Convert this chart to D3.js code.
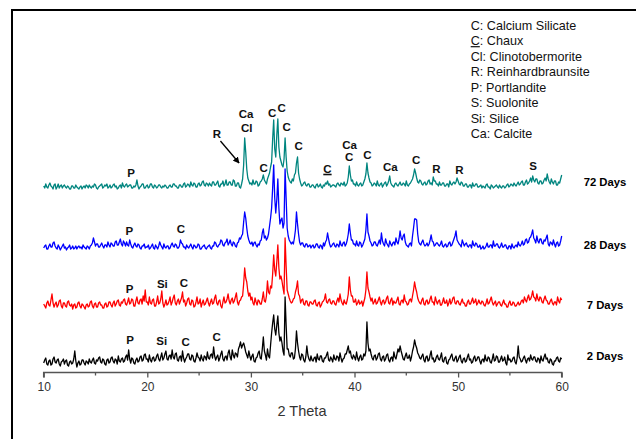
<!DOCTYPE html>
<html>
<head>
<meta charset="utf-8">
<script src="https://cdn.jsdelivr.net/npm/d3@7"></script>
<style>
  body { margin: 0; background: #fff; }
  svg { display: block; font-family: "Liberation Sans", Arial, sans-serif; }
</style>
</head>
<body>
<svg width="638" height="439"></svg>
<script>
// XRD patterns, intensity every 0.1 deg from 10 to 60 (2 theta)
const START = 10;
const STEP = 0.1;

const days72 = [
  1,-1, 3,0, -1,2, 4,1, 0,-2, 2,3, -2,0, 3,-1, 1,2, -1,1,
  2,0, -1,1, 0,-2, -2,1, 1,-1, -1,2, 0,-1, -2,0, 1,-2, 0,1,
  -1,2, 1,-1, 2,0, -1,1, 0,3, 2,-1, -2,0, 1,2, 3,-1, 0,2,
  1,3, -1,0, 2,-1, 0,2, 3,0, 1,-2, -1,1, 2,-1, 4,1, 0,2,
  3,0, 1,2, 2,-1, -1,1, 0,2, 7,1, -2,0, 1,3, 3,-1, -1,1,
  2,-1, 0,3, 3,0, -1,2, 1,-1, 0,2, 2,0, -1,1, 0,2, 1,-1,
  -1,1, 2,0, 0,3, 3,1, 1,-1, -1,2, 2,0, 0,3, 4,0, 1,3,
  2,0, 5,2, 1,4, 3,0, 0,3, 4,1, 2,5, 6,2, 1,4, 3,1,
  4,2, 1,5, 5,2, 2,4, 6,1, 0,3, 3,6, 1,3, 7,2, 2,5,
  5,2, 2,7, 6,1, 1,4, 4,0, -1,3, 8,22, 49,35, 18,9, 6,3,
  4,2, 7,3, 3,6, 5,1, 2,5, 6,8, 12,7, 5,3, 8,11, 14,20,
  25,48, 67,38, 30,52, 68,40, 30,26, 22,20, 28,49, 30,16, 10,7, 5,4,
  8,6, 12,14, 24,30, 14,8, 4,1, 2,4, 5,2, 1,3, 3,0, 0,2,
  2,0, -1,2, 3,0, 1,3, 0,-1, 2,1, 4,3, 6,2, 3,0, 1,2,
  2,1, 0,3, 4,2, 1,4, 3,2, 5,1, 2,4, 10,21, 12,6, 7,3,
  3,1, 5,2, 1,3, 4,1, 2,5, 8,13, 24,14, 9,5, 4,1, 2,4,
  3,1, 6,2, 1,3, 4,0, 2,4, 5,1, 3,6, 11,4, 2,1, 0,3,
  4,2, 1,3, 5,2, 2,4, 3,1, 6,2, 1,3, 4,6, 8,12, 18,14,
  9,5, 4,7, 6,3, 2,4, 5,2, 3,6, 7,3, 4,2, 10,6, 6,3,
  3,1, 5,2, 2,4, 4,1, 1,3, 3,0, 6,3, 2,4, 5,3, 5,9,
  6,3, 2,5, 4,1, 1,3, 3,0, 0,2, 2,-1, 4,1, 1,3, 3,0,
  0,1, 2,-1, 1,0, -1,2, 3,0, 0,-2, 2,1, -1,0, 1,2, 0,-1,
  2,0, -1,1, 1,-1, 0,2, 3,0, 1,3, 2,1, 4,2, 1,3, 5,2,
  3,5, 6,2, 2,5, 7,3, 4,6, 9,5, 11,7, 5,8, 8,4, 3,6,
  6,3, 4,7, 9,6, 13,8, 5,3, 8,5, 3,6, 6,2, 2,5, 4,8,
  12
];

const days28 = [
  0,2, 3,-1, -1,2, 4,1, 1,5, 6,2, 0,-1, 3,1, -2,0, 2,4,
  0,1, -2,0, 1,3, -1,0, 2,-1, 0,2, -1,1, 2,0, 1,-1, 3,1,
  0,-1, 2,1, -1,2, 3,5, 10,6, 2,4, 4,1, 1,3, 5,2, 0,3,
  3,1, 6,3, 1,5, 4,2, 2,6, 7,3, 3,6, 9,4, 2,7, 5,2,
  6,3, 2,8, 4,1, 0,3, 5,2, 1,4, 3,0, -1,2, 2,4, 0,1,
  1,3, -1,0, 2,4, 0,-1, 3,1, -1,2, 6,3, 1,-1, 4,1, 0,2,
  2,-1, 0,3, 5,2, 1,4, 3,0, 0,2, 8,5, 4,1, 1,-1, 3,1,
  0,2, 4,1, -1,3, 2,0, 1,4, 3,-1, -1,1, 2,3, 0,-1, 1,2,
  3,0, -1,2, 2,6, 5,2, 1,3, 4,8, 7,3, 2,5, 6,9, 3,5,
  8,4, 2,6, 5,2, 1,5, 6,10, 9,12, 14,26, 36,30, 20,12, 8,5,
  4,6, 2,5, 6,3, 1,4, 3,7, 8,15, 19,10, 12,8, 10,14, 22,30,
  40,60, 83,50, 35,48, 69,40, 24,28, 30,20, 25,79, 50,20, 12,8, 6,4,
  6,4, 10,18, 36,24, 14,6, 3,5, 5,2, 1,4, 4,1, 2,3, 0,2,
  3,0, 1,4, 4,1, 0,3, 2,-1, 5,2, 6,8, 15,9, 4,1, 2,4,
  5,2, 1,4, 3,1, 7,3, 2,5, 6,2, 4,8, 14,24, 15,8, 8,4,
  4,2, 7,3, 2,6, 5,1, 3,6, 9,18, 34,16, 12,7, 5,2, 3,6,
  6,3, 2,5, 8,4, 15,7, 4,2, 9,5, 3,1, 7,4, 2,5, 6,3,
  10,6, 4,9, 17,10, 8,12, 14,6, 3,2, 1,4, 5,2, 12,20, 29,29,
  28,14, 6,4, 3,6, 8,4, 2,3, 5,2, 4,8, 13,7, 6,2, 3,5,
  5,3, 2,4, 7,2, 1,3, 4,1, 2,5, 6,2, 3,6, 9,12, 17,8,
  6,4, 3,1, 8,5, 2,4, 5,2, 1,3, 3,0, 7,3, 2,5, 4,1,
  1,3, -1,0, 2,-1, 0,2, 5,1, 1,3, 3,0, 7,2, 2,4, 4,1,
  0,2, 5,1, 1,3, 3,0, -1,2, 2,-1, 4,1, 0,2, 3,1, 6,3,
  2,4, 7,3, 4,8, 9,5, 6,10, 11,14, 18,10, 8,5, 12,7, 5,9,
  9,5, 4,8, 7,10, 13,4, 2,6, 5,3, 8,4, 1,5, 6,2, 3,7,
  12
];

const days7 = [
  2,0, -2,3, 5,1, 0,6, 12,3, -1,2, 4,-1, 1,5, 6,0, -2,3,
  3,0, -1,4, 5,1, 0,2, -3,1, 2,-2, -1,3, 4,0, -2,2, 1,-1,
  -3,1, 2,-1, 0,4, 5,0, -2,2, 3,-1, -1,3, 4,1, 1,-2, -2,2,
  3,-1, 0,4, 4,1, -1,3, 5,0, 2,5, 6,1, 0,4, 3,6, 7,2,
  1,4, 8,2, 3,7, 6,0, 0,5, 9,3, 2,6, 7,2, 10,5, 16,4,
  4,1, 9,3, 2,6, 7,0, 0,4, 10,2, 3,7, 15,3, -1,2, 6,1,
  2,5, 9,1, 4,8, 11,3, 1,5, 7,2, 5,8, 14,4, 6,0, 3,7,
  8,2, 1,6, 5,-1, 0,4, 9,2, 3,7, -1,3, 6,1, 2,5, 8,3,
  0,4, 7,2, 3,8, 11,3, 1,5, 6,0, -2,4, 9,3, 4,7, 12,5,
  2,6, 8,3, 5,9, 13,4, 1,5, 6,9, 10,22, 38,28, 24,15, 10,13,
  6,9, 3,1, 8,4, 1,6, 5,2, 2,7, 14,5, 4,10, 25,14, 12,20,
  18,32, 51,36, 30,44, 61,38, 27,30, 25,18, 12,68, 40,16, 12,8, 5,3,
  4,7, 8,14, 18,25, 12,10, 3,6, 7,2, 1,5, 5,1, 0,4, 4,2,
  2,5, 6,1, 0,3, 4,-1, 1,4, 5,7, 12,4, 3,6, 7,3, 2,5,
  5,2, 1,5, 8,4, 12,6, 3,1, 6,3, 2,6, 12,29, 16,10, 10,4,
  4,7, 1,3, 6,2, 3,5, 0,4, 8,16, 34,18, 14,9, 5,8, 2,4,
  7,2, 3,6, 9,4, 1,5, 6,2, 4,8, 10,3, 2,6, 8,1, 5,3,
  3,6, 9,2, 1,5, 6,3, 11,5, 4,1, 2,6, 7,4, 10,16, 24,18,
  14,8, 5,3, 2,6, 8,2, 1,5, 6,2, 3,7, 10,4, 4,1, 9,5,
  2,5, 6,1, 1,4, 8,3, 3,6, 0,3, 7,2, 4,8, 9,3, 2,5,
  5,2, 1,4, 7,3, 3,0, 0,4, 6,2, 2,5, 8,3, 4,7, 1,3,
  6,3, 2,5, 4,1, 0,3, 7,2, 3,6, 9,4, 1,3, 5,0, 2,4,
  4,1, 0,3, 6,2, 2,-1, -1,3, 5,1, 1,4, 3,0, 0,2, 4,1,
  2,5, 6,3, 9,6, 4,8, 11,6, 7,10, 15,9, 8,5, 12,7, 5,9,
  8,4, 3,7, 10,6, 5,2, 2,5, 7,3, 1,4, 4,1, 9,5, 3,8,
  6
];

const days2 = [
  0,3, 5,-1, -2,2, 3,-2, -1,4, 6,1, 0,3, 4,-1, -3,1, 2,4,
  -1,2, 3,-2, -3,1, 2,-1, 0,4, 12,2, -4,0, 2,-2, -1,3, 3,0,
  -2,2, 1,-1, 4,1, 0,3, 5,0, -1,3, 2,5, 6,1, 0,4, 3,-1,
  -2,3, 4,0, 1,5, 6,2, 0,4, 3,-1, 7,2, 1,4, 5,1, 2,6,
  8,3, 13,4, 0,5, 4,0, -1,3, 5,1, 2,6, 7,2, 3,8, 9,4,
  4,1, 8,3, 1,5, 6,2, 3,7, 9,4, 2,6, 10,3, 5,9, 12,4,
  3,7, 8,4, 13,6, 4,9, 10,3, 2,6, 7,2, 12,5, 1,4, 6,9,
  9,4, 3,8, 7,2, 1,5, 10,6, 5,2, 8,4, 2,7, 6,3, 11,5,
  4,8, 9,5, 16,7, 3,6, 8,2, 5,9, 12,4, 2,6, 7,3, 10,13,
  6,3, 13,8, 5,10, 9,6, 14,17, 21,15, 18,20, 16,11, 8,5, 12,7,
  3,7, 9,2, 1,5, 6,10, 12,5, 4,14, 26,12, 8,3, 14,7, 5,18,
  30,40, 48,34, 28,38, 47,30, 22,26, 20,12, 8,66, 38,14, 14,8, 6,10,
  10,4, 5,14, 32,20, 12,6, 3,9, 8,3, 1,6, 17,8, 4,2, 7,3,
  2,5, 6,1, 9,4, 3,7, 7,2, 1,5, 5,8, 11,3, 2,6, 4,1,
  8,4, 3,7, 6,2, 10,5, 1,4, 5,9, 9,13, 17,10, 12,6, 4,8,
  6,3, 11,5, 2,6, 8,3, 4,9, 7,12, 41,20, 12,14, 9,5, 3,7,
  8,3, 5,9, 10,4, 2,6, 7,2, 4,8, 9,3, 1,5, 6,2, 11,6,
  4,9, 14,11, 17,12, 8,4, 3,7, 10,5, 5,8, 2,6, 12,16, 23,18,
  15,10, 8,5, 4,7, 9,3, 1,6, 7,2, 3,8, 12,4, 5,1, 2,6,
  8,4, 3,6, 10,2, 1,5, 6,0, -1,3, 4,7, 9,3, 2,5, 7,1,
  3,6, 8,2, 0,4, 5,1, 2,6, 9,3, 4,0, 1,5, 7,2, 3,6,
  6,2, -1,3, 4,1, 8,3, 2,6, 5,1, 0,4, 9,2, 3,7, 6,1,
  1,4, 7,2, 3,6, 0,-2, 8,3, 4,1, 2,5, 6,1, -1,5, 17,6,
  4,1, 2,5, 7,3, 0,4, 5,2, 8,4, 3,6, 6,2, 1,5, 4,0,
  7,3, 2,6, 9,4, 5,1, 0,4, 3,-1, -2,2, 2,5, 6,2, 1,5,
  4
];

const seriesNames = ["72 Days", "28 Days", "7 Days", "2 Days"];
const seriesValues = [days72, days28, days7, days2];
const seriesOffsets = [185, 124, 66, 9];
const nameLevels = [190, 127, 67, 16];
const seriesColors = ["#00857f", "#0000ff", "#ff0000", "#000000"];

const xTicks = [10, 20, 30, 40, 50, 60];
const xMinorTicks = [15, 25, 35, 45, 55];

// phase labels: [2 theta, level, text, underlined]
const peakLabels = [
  [18.43, 199, "P"], [26.73, 238, "R"], [29.53, 258, "Ca"], [29.59, 244, "Cl"],
  [31.24, 204, "C"], [32.04, 259, "C"], [32.97, 264, "C"], [33.46, 245, "C"],
  [34.61, 226, "C"], [37.39, 203, "C", true], [39.52, 227, "Ca"], [39.49, 215, "C"],
  [41.25, 217, "C"], [43.46, 205, "Ca"], [45.94, 212, "C"], [47.9, 203, "R"],
  [50.12, 202, "R"], [57.23, 206, "S"],
  [18.26, 141, "P"], [23.25, 143, "C"],
  [18.3, 83, "P"], [21.45, 88, "Si"], [23.54, 89, "C"],
  [18.33, 32, "P"], [21.39, 31, "Si"], [23.71, 30, "C"], [26.7, 35, "C"]
];
const arrowFrom = [27.06, 231];
const arrowTo = [28.86, 209];

const legendItems = [
  ["C", ": Calcium Silicate", false],
  ["C", ": Chaux", true],
  ["Cl", ": Clinotobermorite", false],
  ["R", ": Reinhardbraunsite", false],
  ["P", ": Portlandite", false],
  ["S", ": Suolonite", false],
  ["Si", ": Silice", false],
  ["Ca", ": Calcite", false]
];

const main = function() {
  const svg = d3.select("svg");
  const x = d3.scaleLinear().domain([10, 60]).range([43.7, 561.7]);
  const y = d3.scaleLinear().domain([0, 360]).range([372, 12]);

  // frame
  svg.append("path")
    .attr("d", "M12,439V10H636")
    .attr("fill", "none")
    .attr("stroke", "#000")
    .attr("stroke-width", 2);

  // patterns
  const line = d3.line()
    .x((d, i) => x(START + i * STEP))
    .y(d => y(d));

  seriesValues.forEach((vals, k) => {
    svg.append("path")
      .datum(vals.map(v => v + seriesOffsets[k]))
      .attr("d", line)
      .attr("fill", "none")
      .attr("stroke", seriesColors[k])
      .attr("stroke-width", 1.3)
      .attr("stroke-linejoin", "round");
  });

  // x axis
  const axis = svg.append("g")
    .attr("transform", `translate(0, ${y(0) + 0.5})`)
    .call(d3.axisBottom(x).tickValues(xTicks).tickSize(5).tickPadding(5));
  axis.select(".domain").attr("stroke", "#555").attr("stroke-width", 1.5)
    .attr("d", `M${x(10)},5V0H${x(60)}V5`);
  axis.selectAll(".tick line").attr("stroke", "#555").attr("stroke-width", 1.3);
  axis.selectAll(".tick text")
    .attr("fill", "#333")
    .style("font-size", "12px")
    .style("font-family", "'Liberation Sans', Arial, sans-serif");
  axis.selectAll(".minor")
    .data(xMinorTicks)
    .enter()
    .append("line")
    .attr("x1", d => x(d))
    .attr("x2", d => x(d))
    .attr("y1", 0)
    .attr("y2", 3)
    .attr("stroke", "#555")
    .attr("stroke-width", 1.3);

  svg.append("text")
    .attr("x", 302)
    .attr("y", 411)
    .attr("text-anchor", "middle")
    .attr("dominant-baseline", "central")
    .attr("fill", "#333")
    .style("font-size", "14.5px")
    .text("2 Theta");

  // series names
  svg.selectAll(".name")
    .data(seriesNames)
    .enter()
    .append("text")
    .attr("x", 605)
    .attr("y", (d, i) => y(nameLevels[i]))
    .attr("text-anchor", "middle")
    .attr("dominant-baseline", "central")
    .style("font-size", "11.3px")
    .style("font-weight", "bold")
    .text(d => d);

  // peak labels
  const peaks = svg.selectAll(".peak")
    .data(peakLabels)
    .enter()
    .append("text")
    .attr("x", d => x(d[0]))
    .attr("y", d => y(d[1]))
    .attr("text-anchor", "middle")
    .attr("dominant-baseline", "central")
    .attr("fill", "#111")
    .style("font-size", "11.5px")
    .style("font-weight", "bold")
    .text(d => d[2]);
  peaks.filter(d => d[3]).each(function() {
    const b = this.getBBox();
    svg.append("line")
      .attr("x1", b.x).attr("x2", b.x + b.width)
      .attr("y1", b.y + b.height - 0.5).attr("y2", b.y + b.height - 0.5)
      .attr("stroke", "#111").attr("stroke-width", 1.6);
  });

  // arrow to the R peak
  svg.append("defs").append("marker")
    .attr("id", "head")
    .attr("viewBox", "0 0 10 10")
    .attr("refX", 9).attr("refY", 5)
    .attr("markerWidth", 5).attr("markerHeight", 5)
    .attr("orient", "auto")
    .append("path")
    .attr("d", "M0,0L10,5L0,10z")
    .attr("fill", "#000");
  svg.append("line")
    .attr("x1", x(arrowFrom[0])).attr("y1", y(arrowFrom[1]))
    .attr("x2", x(arrowTo[0])).attr("y2", y(arrowTo[1]))
    .attr("stroke", "#000")
    .attr("stroke-width", 1.3)
    .attr("marker-end", "url(#head)");

  // legend
  const legend = svg.selectAll(".legend")
    .data(legendItems)
    .enter()
    .append("text")
    .attr("x", 470.7)
    .attr("y", (d, i) => 25.7 + i * 15.5)
    .attr("dominant-baseline", "central")
    .attr("fill", "#111")
    .style("font-size", "12.6px")
    .text(d => d[0] + d[1]);
  legend.filter(d => d[2]).each(function(d) {
    const b = this.getBBox();
    const w = this.getSubStringLength(0, d[0].length);
    svg.append("line")
      .attr("x1", b.x).attr("x2", b.x + w)
      .attr("y1", b.y + b.height - 1.5).attr("y2", b.y + b.height - 1.5)
      .attr("stroke", "#111").attr("stroke-width", 1.2);
  });
};

window.onload = main;
</script>
</body>
</html>
